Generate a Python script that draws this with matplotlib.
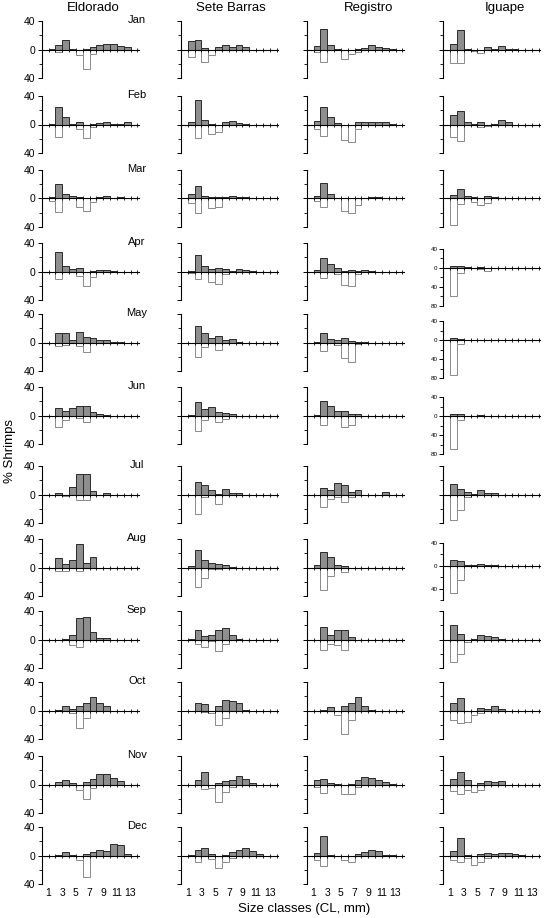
import matplotlib.pyplot as plt
from matplotlib.ticker import FixedLocator

plt.rcParams['font.family'] = ['Liberation Sans', 'DejaVu Sans']

months = ['Jan', 'Feb', 'Mar', 'Apr', 'May', 'Jun',
          'Jul', 'Aug', 'Sep', 'Oct', 'Nov', 'Dec']
sites = ['Eldorado', 'Sete Barras', 'Registro', 'Iguape']
classes = list(range(1, 14))
class_labels = ['1', '3', '5', '7', '9', '11', '13']

# % shrimps per size class, upper (grey) and lower (white) histograms
eldorado_top = [
    [1, 6, 14, 1, 0, 1, 4, 6, 8, 8, 5, 3, 0],
    [1, 25, 11, 1, 3, 0, 1, 2, 4, 1, 1, 3, 0],
    [2, 20, 7, 3, 2, 0, 1, 2, 4, 1, 2, 0, 0],
    [0, 28, 8, 3, 5, 0, 1, 2, 2, 1, 0, 0, 0],
    [0, 14, 13, 4, 15, 8, 7, 4, 3, 1, 1, 0, 0],
    [0, 11, 7, 11, 14, 13, 5, 2, 1, 0, 0, 0, 0],
    [0, 2, 0, 10, 29, 29, 5, 0, 2, 0, 0, 0, 0],
    [0, 14, 5, 11, 33, 7, 15, 0, 0, 0, 0, 0, 0],
    [0, 0, 1, 6, 30, 31, 10, 2, 2, 0, 0, 0, 0],
    [0, 1, 6, 2, 7, 11, 19, 11, 7, 0, 0, 0, 0],
    [0, 3, 6, 2, 0, 4, 8, 15, 15, 9, 5, 0, 0],
    [0, 1, 5, 1, 0, 2, 5, 8, 6, 16, 15, 2, 0],
]
eldorado_bottom = [
    [0, 4, 0, 0, 8, 27, 7, 0, 0, 0, 0, 0, 0],
    [0, 18, 0, 0, 6, 19, 3, 0, 0, 0, 0, 0, 0],
    [3, 19, 0, 0, 12, 17, 5, 0, 0, 0, 0, 0, 0],
    [0, 11, 0, 0, 6, 20, 8, 0, 0, 0, 0, 0, 0],
    [0, 5, 3, 0, 5, 14, 0, 0, 0, 0, 0, 0, 0],
    [0, 16, 6, 1, 4, 9, 0, 0, 0, 0, 0, 0, 0],
    [0, 0, 2, 0, 8, 8, 0, 0, 0, 0, 0, 0, 0],
    [0, 5, 5, 0, 5, 0, 0, 0, 0, 0, 0, 0, 0],
    [0, 0, 0, 8, 10, 0, 0, 0, 0, 0, 0, 0, 0],
    [0, 0, 0, 3, 25, 11, 0, 0, 0, 0, 0, 0, 0],
    [0, 0, 0, 0, 8, 20, 5, 0, 0, 0, 0, 0, 0],
    [0, 0, 0, 0, 6, 30, 0, 0, 0, 0, 0, 0, 0],
]
sete_top = [
    [12, 14, 2, 0, 4, 7, 4, 6, 3, 0, 0, 0, 0],
    [3, 35, 6, 1, 0, 4, 5, 2, 1, 0, 0, 0, 0],
    [7, 18, 3, 2, 2, 2, 3, 2, 2, 0, 0, 0, 0],
    [1, 23, 8, 3, 5, 3, 1, 3, 2, 1, 0, 0, 0],
    [0, 23, 14, 7, 9, 4, 5, 1, 0, 0, 0, 0, 0],
    [1, 19, 9, 12, 5, 3, 2, 0, 0, 0, 0, 0, 0],
    [0, 17, 13, 7, 1, 8, 2, 2, 0, 0, 0, 0, 0],
    [2, 25, 10, 7, 5, 4, 1, 0, 0, 0, 0, 0, 0],
    [1, 13, 5, 7, 13, 16, 6, 1, 0, 0, 0, 0, 0],
    [0, 10, 9, 0, 7, 15, 14, 10, 1, 0, 0, 0, 0],
    [0, 7, 18, 0, 2, 5, 7, 12, 8, 2, 0, 0, 0],
    [1, 8, 11, 2, 0, 1, 5, 8, 10, 7, 2, 0, 0],
]
sete_bottom = [
    [10, 0, 17, 8, 0, 0, 0, 0, 0, 0, 0, 0, 0],
    [0, 19, 0, 13, 10, 0, 0, 0, 0, 0, 0, 0, 0],
    [7, 21, 0, 13, 12, 0, 0, 0, 0, 0, 0, 0, 0],
    [2, 11, 0, 15, 18, 3, 0, 0, 0, 0, 0, 0, 0],
    [0, 20, 6, 0, 11, 0, 0, 0, 0, 0, 0, 0, 0],
    [0, 22, 6, 1, 9, 5, 0, 0, 0, 0, 0, 0, 0],
    [1, 27, 4, 0, 13, 0, 0, 0, 0, 0, 0, 0, 0],
    [0, 27, 15, 2, 2, 0, 0, 0, 0, 0, 0, 0, 0],
    [0, 6, 10, 2, 16, 6, 0, 0, 0, 0, 0, 0, 0],
    [0, 0, 2, 3, 20, 10, 0, 0, 0, 0, 0, 0, 0],
    [0, 0, 7, 5, 24, 10, 3, 0, 0, 0, 0, 0, 0],
    [0, 9, 0, 5, 18, 9, 3, 0, 0, 0, 0, 0, 0],
]
registro_top = [
    [5, 29, 6, 1, 0, 0, 1, 2, 6, 4, 2, 1, 0],
    [5, 25, 10, 2, 0, 0, 4, 4, 4, 4, 4, 1, 0],
    [3, 22, 7, 1, 0, 0, 0, 1, 2, 2, 0, 0, 0],
    [2, 19, 10, 5, 1, 2, 1, 2, 1, 0, 0, 0, 0],
    [1, 13, 5, 4, 6, 2, 1, 1, 0, 0, 0, 0, 0],
    [1, 21, 13, 7, 6, 2, 2, 0, 0, 0, 0, 0, 0],
    [0, 9, 6, 16, 13, 3, 6, 0, 0, 0, 3, 0, 0],
    [4, 22, 15, 4, 2, 0, 0, 0, 0, 0, 0, 0, 0],
    [0, 18, 7, 13, 13, 3, 0, 0, 0, 0, 0, 0, 0],
    [0, 1, 5, 0, 7, 11, 19, 6, 1, 0, 0, 0, 0],
    [6, 8, 2, 1, 0, 1, 7, 11, 9, 7, 4, 1, 0],
    [3, 28, 1, 0, 0, 0, 2, 5, 8, 7, 1, 1, 0],
]
registro_bottom = [
    [3, 17, 0, 0, 13, 6, 3, 0, 0, 0, 0, 0, 0],
    [7, 16, 0, 0, 22, 24, 7, 0, 0, 0, 0, 0, 0],
    [4, 12, 0, 0, 17, 20, 9, 0, 0, 0, 0, 0, 0],
    [0, 9, 0, 3, 19, 21, 3, 0, 0, 0, 0, 0, 0],
    [0, 12, 0, 3, 22, 28, 2, 0, 0, 0, 0, 0, 0],
    [0, 13, 0, 0, 16, 13, 0, 0, 0, 0, 0, 0, 0],
    [0, 17, 7, 3, 11, 4, 0, 0, 0, 0, 0, 0, 0],
    [0, 32, 12, 0, 7, 0, 0, 0, 0, 0, 0, 0, 0],
    [0, 15, 7, 8, 15, 0, 0, 0, 0, 0, 0, 0, 0],
    [0, 0, 0, 6, 33, 14, 0, 0, 0, 0, 0, 0, 0],
    [4, 12, 0, 0, 13, 13, 3, 0, 0, 0, 0, 0, 0],
    [6, 15, 0, 0, 6, 9, 0, 0, 0, 0, 0, 0, 0],
]
iguape_top = [
    [8, 27, 1, 0, 0, 3, 1, 5, 1, 1, 0, 0, 0],
    [13, 19, 3, 1, 3, 0, 1, 6, 3, 0, 0, 0, 0],
    [5, 13, 4, 2, 1, 3, 2, 1, 1, 0, 0, 0, 0],
    [4, 4, 2, 1, 3, 1, 1, 0, 0, 0, 0, 0, 0],
    [4, 2, 0, 0, 1, 1, 0, 0, 0, 0, 0, 0, 0],
    [5, 4, 0, 1, 2, 1, 1, 0, 0, 0, 0, 0, 0],
    [15, 8, 4, 1, 6, 2, 2, 0, 0, 0, 0, 0, 0],
    [11, 9, 2, 1, 3, 1, 1, 0, 0, 0, 0, 0, 0],
    [20, 8, 0, 1, 6, 5, 3, 1, 0, 0, 0, 0, 0],
    [11, 17, 0, 0, 4, 2, 6, 2, 0, 0, 0, 0, 0],
    [8, 18, 7, 0, 2, 5, 3, 5, 0, 0, 0, 0, 0],
    [6, 24, 1, 0, 2, 3, 2, 3, 3, 2, 1, 0, 0],
]
iguape_bottom = [
    [19, 19, 0, 2, 5, 0, 0, 0, 0, 0, 0, 0, 0],
    [18, 23, 0, 0, 4, 2, 0, 0, 0, 0, 0, 0, 0],
    [37, 8, 0, 5, 9, 7, 0, 0, 0, 0, 0, 0, 0],
    [60, 10, 0, 0, 2, 6, 0, 0, 0, 0, 0, 0, 0],
    [73, 9, 0, 0, 0, 1, 0, 0, 0, 0, 0, 0, 0],
    [70, 9, 0, 0, 0, 0, 0, 0, 0, 0, 0, 0, 0],
    [36, 22, 3, 0, 0, 0, 0, 0, 0, 0, 0, 0, 0],
    [48, 25, 0, 0, 0, 0, 0, 0, 0, 0, 0, 0, 0],
    [31, 20, 4, 0, 0, 0, 0, 0, 0, 0, 0, 0, 0],
    [13, 17, 16, 6, 4, 0, 0, 0, 0, 0, 0, 0, 0],
    [9, 14, 8, 11, 8, 0, 0, 0, 0, 0, 0, 0, 0],
    [7, 9, 3, 13, 9, 3, 0, 0, 0, 0, 0, 0, 0],
]

tops = [eldorado_top, sete_top, registro_top, iguape_top]
bottoms = [eldorado_bottom, sete_bottom, registro_bottom, iguape_bottom]

# layout in pixels
W, H = 544, 918
col_left = [41.7, 181, 306.7, 443.3]
title_x = [93, 231, 369, 505]
row_top = [21, 96, 170, 243, 314, 387, 466, 539, 611, 682, 756, 827]
pw, ph = 97, 57
# Iguape panels with their own y scale: row -> (ymin, shift of top in px)
iguape_special = {3: (-80, 6), 4: (-80, 7), 5: (-80, 10), 7: (-60, 4)}

fig = plt.figure(figsize=(W / 100, H / 100), dpi=100)

for c in range(4):
    fig.text(title_x[c] / W, 1 - 8 / H, sites[c], ha='center', va='center', fontsize=9.5)
    for r in range(12):
        ymin, shift = -40, 0
        if c == 3 and r in iguape_special:
            ymin, shift = iguape_special[r]
        top = row_top[r] + shift
        ax = fig.add_axes([col_left[c] / W, 1 - (top + ph) / H, pw / W, ph / H])

        low = [-v for v in bottoms[c][r]]
        ax.bar(classes, low, width=1, align='edge', color='white',
               edgecolor='#8a8a8a', linewidth=0.7, zorder=1)
        ax.bar(classes, tops[c][r], width=1, align='edge', color='#8e8e8e',
               edgecolor='#2a2a2a', linewidth=0.7, zorder=2)

        ax.set_xlim(0, 14.2)
        ax.set_ylim(ymin, 40)
        for s in ['top', 'right']:
            ax.spines[s].set_visible(False)
        ax.spines['bottom'].set_position(('data', 0))
        ax.spines['bottom'].set_zorder(3)
        ax.spines['left'].set_linewidth(0.8)
        ax.spines['bottom'].set_linewidth(0.8)
        ax.set_xticks(range(1, 15))
        ax.tick_params(axis='x', direction='inout', length=2.5, width=0.6,
                       labelbottom=False)

        if ymin == -80:
            major = [-80, -40, 0, 40]
            minor = [-60, -20, 20]
        elif ymin == -60:
            major = [-40, 0, 40]
            minor = [-60, -20, 20]
        else:
            major = [-40, 0, 40]
            minor = [-20, 20]
        ax.set_yticks(major)
        ax.yaxis.set_minor_locator(FixedLocator(minor))
        ax.tick_params(axis='y', which='major', direction='out', length=3, width=0.7)
        ax.tick_params(axis='y', which='minor', direction='out', length=2, width=0.6)
        if c == 0:
            ax.set_yticklabels([str(abs(v)) for v in major])
            ax.tick_params(axis='y', labelsize=7.5, pad=1.5)
            ax.text(0.98, 1.02, months[r], transform=ax.transAxes,
                    ha='center', va='center', fontsize=8)
        elif c == 3 and ymin != -40:
            ax.set_yticklabels([str(abs(v)) for v in major])
            ax.tick_params(axis='y', labelsize=4.5, pad=1)
        else:
            ax.set_yticklabels([])

        if r == 11:
            sec = ax.secondary_xaxis('bottom')
            sec.set_xticks(range(1, 14, 2))
            sec.set_xticklabels(class_labels)
            sec.tick_params(length=0, labelsize=7.5, pad=3)
            sec.spines['bottom'].set_visible(False)

fig.text(10 / W, 1 - 451 / H, '% Shrimps', rotation=90, ha='center', va='center', fontsize=9.5)
fig.text(304 / W, 1 - 909 / H, 'Size classes (CL, mm)', ha='center', va='center', fontsize=9.5)

fig.savefig('out.png', dpi=100)
